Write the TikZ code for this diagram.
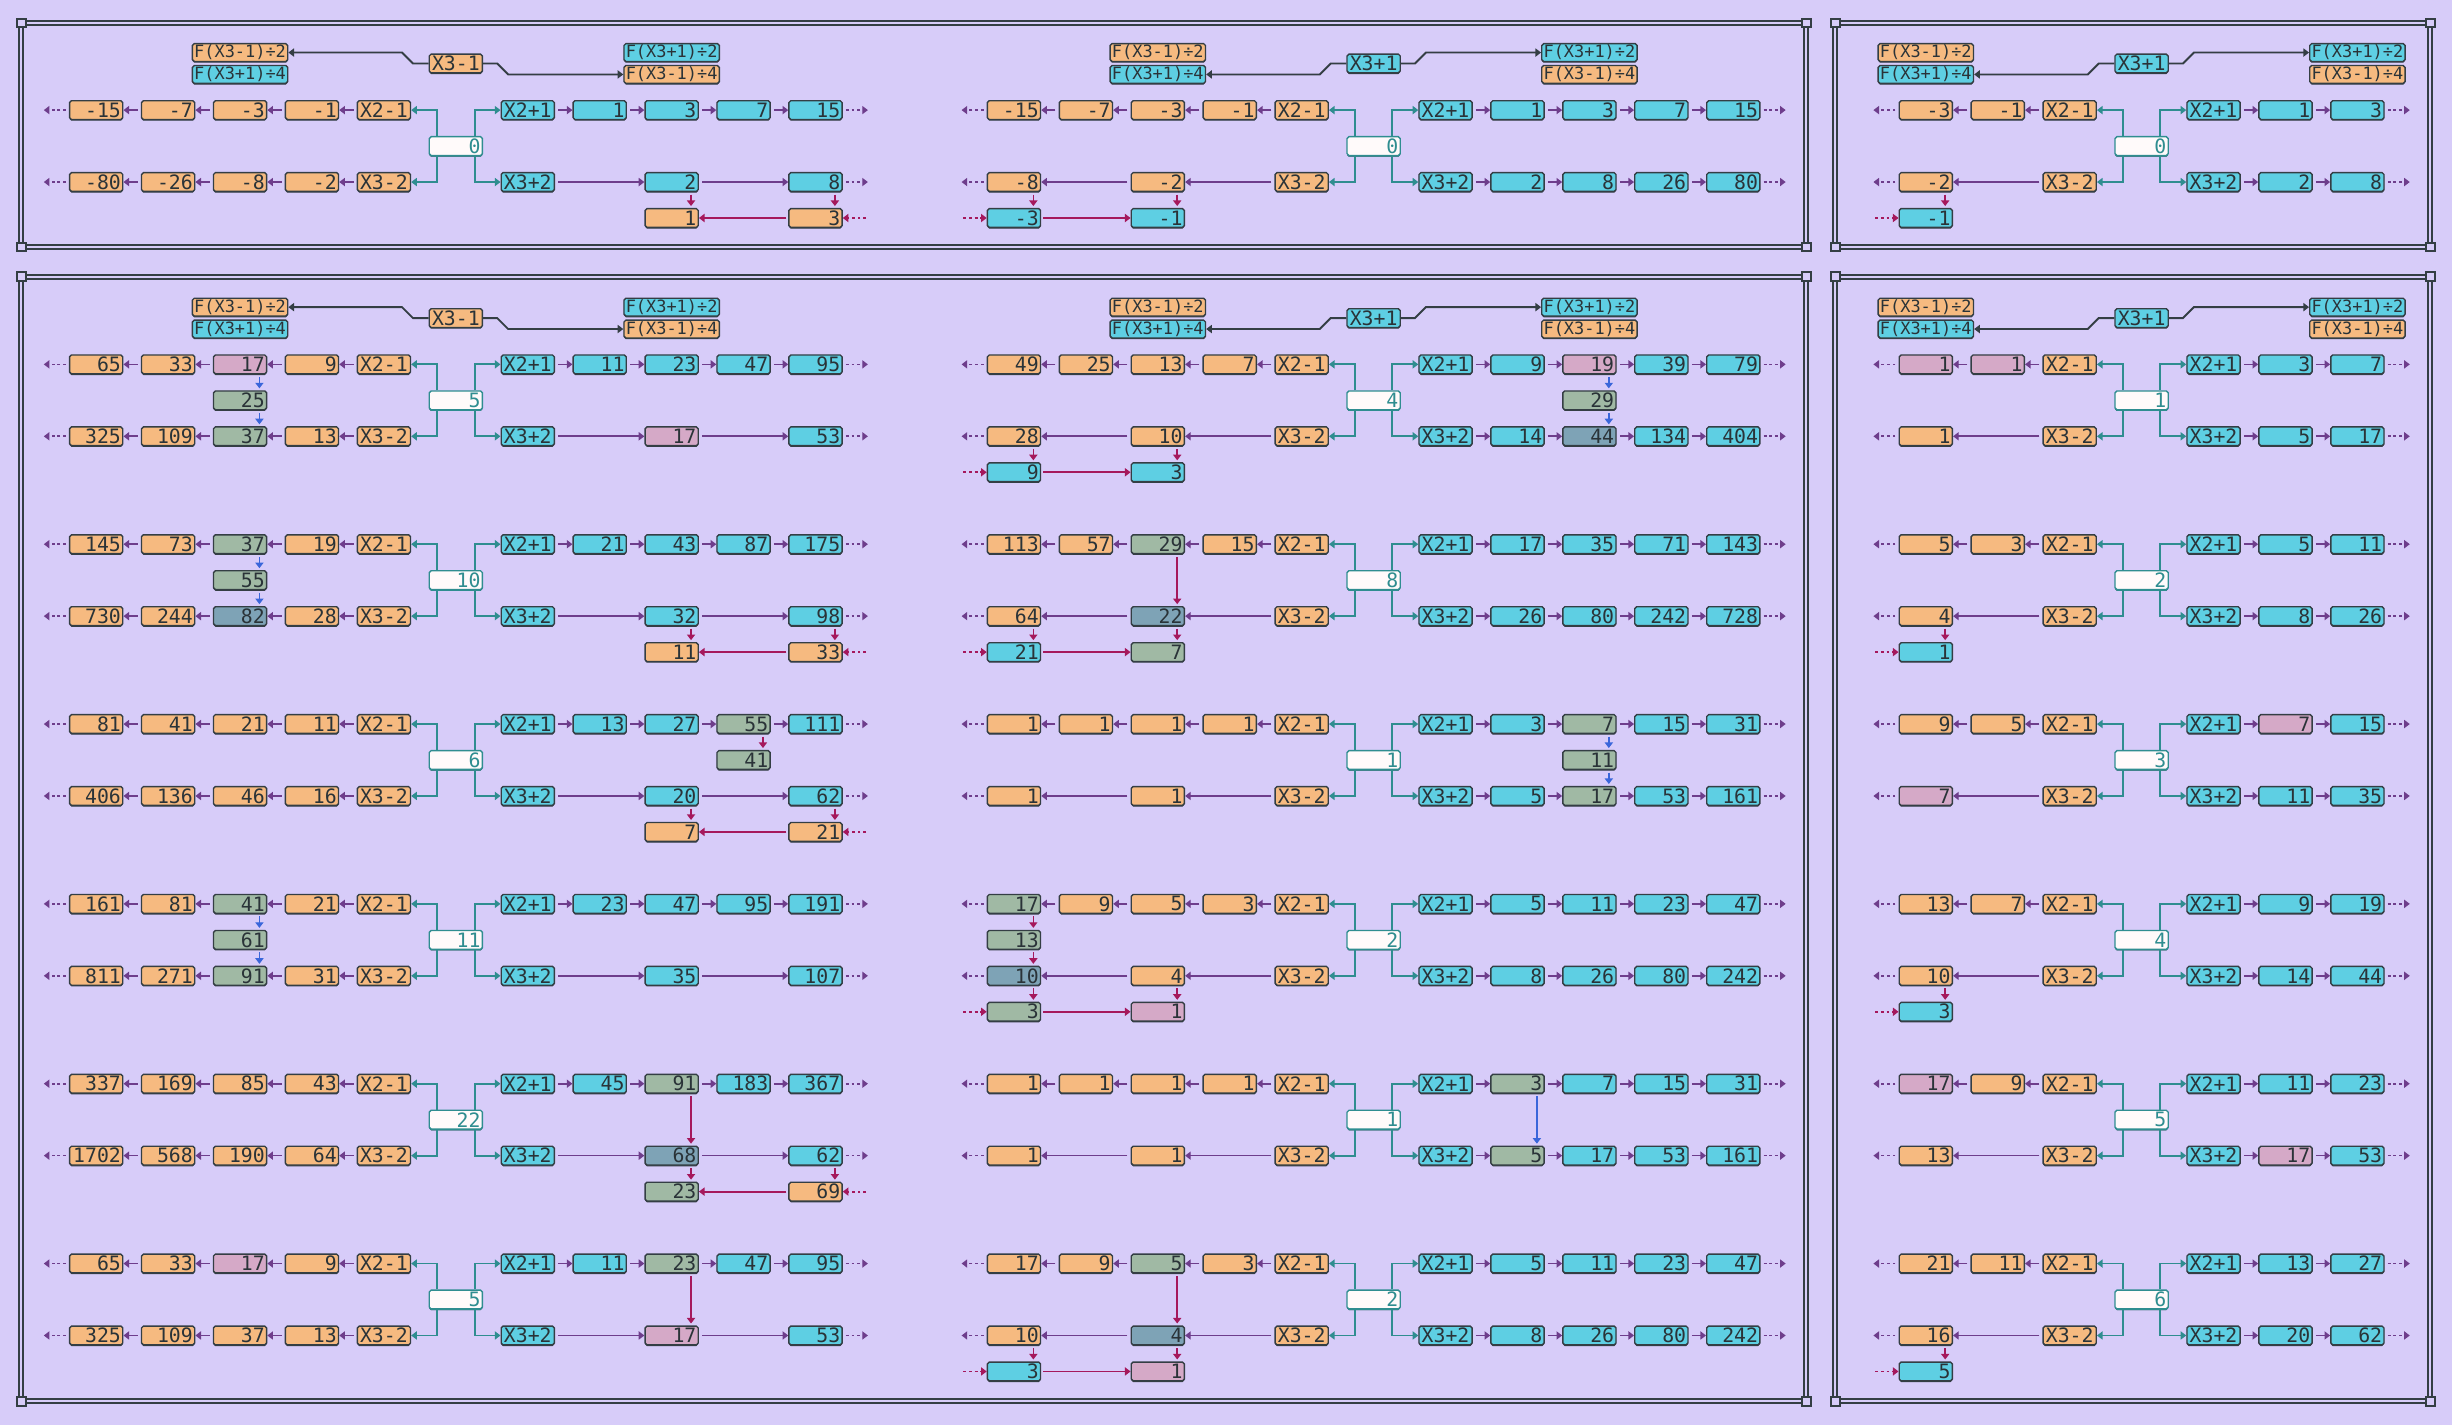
\documentclass[tikz,border=0pt]{standalone}
\usepackage{fontspec}
\setmonofont{DejaVu Sans Mono}
\usepackage{tikz}
\usetikzlibrary{arrows.meta,calc}
\definecolor{Lilac}{HTML}{D7CCF9}
\definecolor{cO}{HTML}{F6BA80}
\definecolor{cC}{HTML}{5ECFE3}
\definecolor{cP}{HTML}{D5A9C7}
\definecolor{cG}{HTML}{A0B9A4}
\definecolor{cS}{HTML}{7EA3B6}
\definecolor{Edge}{HTML}{343E44}
\definecolor{Ink}{HTML}{2A3338}
\definecolor{Lagoon}{HTML}{2F8D90}
\definecolor{Snow}{HTML}{FFFAFA}
\definecolor{Grape}{HTML}{6E3D8C}
\definecolor{Berry}{HTML}{A5185C}
\definecolor{Azure}{HTML}{3A66DA}
\newcommand{\cellfont}{\ttfamily\fontsize{9}{9}\selectfont}
\tikzset{
  cell/.style={draw=Edge, line width=0.22mm, rounded corners=0.3mm, minimum height=3mm,
    text width=7.9mm, inner xsep=0.3mm, inner ysep=0pt, align=right, text=Ink, font=\cellfont,
    preaction={fill=Edge, transform canvas={yshift=-0.2mm}}},
  fcell/.style={cell, text width=14.8mm, inner xsep=0.22mm, minimum height=2.85mm, align=center,
    font=\ttfamily\fontsize{7.7}{7.7}\selectfont},
  xO/.style={fill=cO, align=center},
  xC/.style={fill=cC, align=center},
  hub/.style={fill=Snow, draw=Lagoon, text=Lagoon, preaction={fill=Lagoon, transform canvas={yshift=-0.2mm}}},
  flow/.style={draw=Grape, line width=0.26mm, -{Triangle[length=0.9mm,width=1.3mm]}, shorten <=0.5mm},
  back/.style={draw=Berry, line width=0.3mm, -{Triangle[length=0.9mm,width=1.3mm]}, shorten <=0.3mm},
  loose/.style={dash pattern=on 0.45mm off 0.45mm},
  link/.style={draw=Lagoon, line width=0.3mm, -{Triangle[length=0.9mm,width=1.3mm]}},
  lead/.style={draw=Edge, line width=0.3mm, -{Triangle[length=0.9mm,width=1.3mm]}},
  bluedrop/.style={draw=Azure, line width=0.26mm, -{Triangle[length=0.9mm,width=1.3mm]}, shorten <=0.4mm, shorten >=0.3mm},
  reddrop/.style={bluedrop, draw=Berry},
  frame/.style={draw=Edge, line width=0.32mm, double=Lilac, double distance=0.32mm},
  notch/.style={draw=Edge, line width=0.32mm, fill=Lilac}
}
% double frame with small corner squares
\newcommand{\panel}[4]{%
  \draw[frame] (#1,#2) rectangle (#3,#4);
  \foreach \px/\py in {#1/#2,#3/#2,#1/#4,#3/#4}
    \draw[notch] ({\px-2.8},{\py-2.8}) rectangle ({\px+2.8},{\py+2.8});
}
% header: X3-1 or X3+1 and its four F boxes
\newcommand{\hdrline}[4]{%
  \node[fcell,fill=cO] (#1L2) at (#2-138,#3-7) {F(X3-1)÷2};
  \node[fcell,fill=cC] (#1L4) at (#2-138,#3+7) {F(X3+1)÷4};
  \node[fcell,fill=cC] (#1R2) at (#2+138,#3-7) {F(X3+1)÷2};
  \node[fcell,fill=cO] (#1R4) at (#2+138,#3+7) {F(X3-1)÷4};
  \if#4m
    \node[cell,xO] (#1op) at (#2,#3) {X3-1};
    \draw[lead] (#1op.west) -- ++(-10,0) -- ++(-7,-7) -- (#1L2.east);
    \draw[lead] (#1op.east) -- ++(9,0) -- ++(7,7) -- (#1R4.west);
  \else
    \node[cell,xC] (#1op) at (#2,#3) {X3+1};
    \draw[lead] (#1op.west) -- ++(-10,0) -- ++(-7,7) -- (#1L4.east);
    \draw[lead] (#1op.east) -- ++(9,0) -- ++(7,-7) -- (#1R2.west);
  \fi
}
% block: name, cx, cy, hub value, outer column
\newcommand{\blockat}[5]{%
  \def\bname{#1}\def\bcx{#2}\def\bcy{#3}\def\bnout{#5}%
  \node[cell,hub] (#1hub) at (#2,#3) {#4};
  \node[cell,xO] (#1r1c-1) at (#2-46,#3-23) {X2-1};
  \node[cell,xC] (#1r1c1) at (#2+46,#3-23) {X2+1};
  \node[cell,xO] (#1r2c-1) at (#2-46,#3+23) {X3-2};
  \node[cell,xC] (#1r2c1) at (#2+46,#3+23) {X3+2};
  \draw[link] ($(#1hub.north)+(-12,0)$) |- (#1r1c-1);
  \draw[link] ($(#1hub.north)+(12,0)$) |- (#1r1c1);
  \draw[link] ($(#1hub.south)+(-12,0)$) |- (#1r2c-1);
  \draw[link] ($(#1hub.south)+(12,0)$) |- (#1r2c1);
}
% outgoing row: tag, dy, side, col/value/colour
\newcommand{\rowout}[4]{%
  \pgfmathtruncatemacro{\ocol}{#3*\bnout}
  \foreach \col/\val/\clr [remember=\col as \prev (initially #3)] in {#4}{
    \node[cell,fill=c\clr] (\bname#1c\col) at ({\bcx+46*\col},{\bcy+#2}) {\val};
    \draw[flow] (\bname#1c\prev) -- (\bname#1c\col);
  }
  \coordinate (\bname#1x\ocol) at ({\bcx+(46*\bnout+33.5)*#3},{\bcy+#2});
  \draw[flow,loose] (\bname#1c\ocol) -- (\bname#1x\ocol);
}
\newcommand{\dropto}[3]{\draw[#1] ([xshift=3.1mm]#2.south) -- ([xshift=3.1mm]#3.north);}
% incoming row under row 2: side, col/value/colour from outside in
\newcommand{\rowin}[2]{%
  \coordinate (\bname r3x) at ({\bcx+(46*\bnout+33.5)*#1},{\bcy+46});
  \foreach \col/\val/\clr [remember=\col as \prev (initially 0)] in {#2}{
    \node[cell,fill=c\clr] (\bname r3c\col) at ({\bcx+46*\col},{\bcy+46}) {\val};
    \dropto{reddrop}{\bname r2c\col}{\bname r3c\col}
    \ifnum\prev=0 \draw[back,loose] (\bname r3x) -- (\bname r3c\col);
    \else \draw[back] (\bname r3c\prev) -- (\bname r3c\col);\fi
  }
}
\newcommand{\midbox}[3]{\node[cell,fill=c#3] (\bname mc#1) at ({\bcx+46*#1},\bcy) {#2};}

\begin{document}
\begin{tikzpicture}[x=0.25mm,y=-0.25mm]
\fill[Lilac] (0,0) rectangle (1568,911);
\panel{13.7}{14.7}{1155}{158}
\panel{1173.6}{14.7}{1554}{158}
\panel{13.7}{177}{1155}{896}
\panel{1173.6}{177}{1554}{896}

% top panels
\hdrline{HA}{291.5}{40.6}{m}
\blockat{A}{291.5}{93.4}{0}{5}
\rowout{r1}{-23}{-1}{-2/-1/O,-3/-3/O,-4/-7/O,-5/-15/O}
\rowout{r1}{-23}{1}{2/1/C,3/3/C,4/7/C,5/15/C}
\rowout{r2}{23}{-1}{-2/-2/O,-3/-8/O,-4/-26/O,-5/-80/O}
\rowout{r2}{23}{1}{3/2/C,5/8/C}
\rowin{1}{5/3/O,3/1/O}

\hdrline{HB}{878.4}{40.6}{p}
\blockat{B}{878.4}{93.4}{0}{5}
\rowout{r1}{-23}{-1}{-2/-1/O,-3/-3/O,-4/-7/O,-5/-15/O}
\rowout{r1}{-23}{1}{2/1/C,3/3/C,4/7/C,5/15/C}
\rowout{r2}{23}{-1}{-3/-2/O,-5/-8/O}
\rowout{r2}{23}{1}{2/2/C,3/8/C,4/26/C,5/80/C}
\rowin{-1}{-5/-3/C,-3/-1/C}

\hdrline{HC}{1369.5}{40.6}{p}
\blockat{C}{1369.5}{93.4}{0}{3}
\rowout{r1}{-23}{-1}{-2/-1/O,-3/-3/O}
\rowout{r1}{-23}{1}{2/1/C,3/3/C}
\rowout{r2}{23}{-1}{-3/-2/O}
\rowout{r2}{23}{1}{2/2/C,3/8/C}
\rowin{-1}{-3/-1/C}

% bottom panels, left column
\hdrline{HL}{291.5}{203.4}{m}
\blockat{L1}{291.5}{256}{5}{5}
\rowout{r1}{-23}{-1}{-2/9/O,-3/17/P,-4/33/O,-5/65/O}
\rowout{r1}{-23}{1}{2/11/C,3/23/C,4/47/C,5/95/C}
\rowout{r2}{23}{-1}{-2/13/O,-3/37/G,-4/109/O,-5/325/O}
\rowout{r2}{23}{1}{3/17/P,5/53/C}
\midbox{-3}{25}{G}
\dropto{bluedrop}{L1r1c-3}{L1mc-3}
\dropto{bluedrop}{L1mc-3}{L1r2c-3}

\blockat{L2}{291.5}{371}{10}{5}
\rowout{r1}{-23}{-1}{-2/19/O,-3/37/G,-4/73/O,-5/145/O}
\rowout{r1}{-23}{1}{2/21/C,3/43/C,4/87/C,5/175/C}
\rowout{r2}{23}{-1}{-2/28/O,-3/82/S,-4/244/O,-5/730/O}
\rowout{r2}{23}{1}{3/32/C,5/98/C}
\midbox{-3}{55}{G}
\dropto{bluedrop}{L2r1c-3}{L2mc-3}
\dropto{bluedrop}{L2mc-3}{L2r2c-3}
\rowin{1}{5/33/O,3/11/O}

\blockat{L3}{291.5}{486}{6}{5}
\rowout{r1}{-23}{-1}{-2/11/O,-3/21/O,-4/41/O,-5/81/O}
\rowout{r1}{-23}{1}{2/13/C,3/27/C,4/55/G,5/111/C}
\rowout{r2}{23}{-1}{-2/16/O,-3/46/O,-4/136/O,-5/406/O}
\rowout{r2}{23}{1}{3/20/C,5/62/C}
\midbox{4}{41}{G}
\dropto{reddrop}{L3r1c4}{L3mc4}
\rowin{1}{5/21/O,3/7/O}

\blockat{L4}{291.5}{601}{11}{5}
\rowout{r1}{-23}{-1}{-2/21/O,-3/41/G,-4/81/O,-5/161/O}
\rowout{r1}{-23}{1}{2/23/C,3/47/C,4/95/C,5/191/C}
\rowout{r2}{23}{-1}{-2/31/O,-3/91/G,-4/271/O,-5/811/O}
\rowout{r2}{23}{1}{3/35/C,5/107/C}
\midbox{-3}{61}{G}
\dropto{bluedrop}{L4r1c-3}{L4mc-3}
\dropto{bluedrop}{L4mc-3}{L4r2c-3}

\blockat{L5}{291.5}{716}{22}{5}
\rowout{r1}{-23}{-1}{-2/43/O,-3/85/O,-4/169/O,-5/337/O}
\rowout{r1}{-23}{1}{2/45/C,3/91/G,4/183/C,5/367/C}
\rowout{r2}{23}{-1}{-2/64/O,-3/190/O,-4/568/O,-5/1702/O}
\rowout{r2}{23}{1}{3/68/S,5/62/C}
\dropto{reddrop}{L5r1c3}{L5r2c3}
\rowin{1}{5/69/O,3/23/G}

\blockat{L6}{291.5}{831}{5}{5}
\rowout{r1}{-23}{-1}{-2/9/O,-3/17/P,-4/33/O,-5/65/O}
\rowout{r1}{-23}{1}{2/11/C,3/23/G,4/47/C,5/95/C}
\rowout{r2}{23}{-1}{-2/13/O,-3/37/O,-4/109/O,-5/325/O}
\rowout{r2}{23}{1}{3/17/P,5/53/C}
\dropto{reddrop}{L6r1c3}{L6r2c3}

% bottom panels, middle column
\hdrline{HM}{878.4}{203.4}{p}
\blockat{M1}{878.4}{256}{4}{5}
\rowout{r1}{-23}{-1}{-2/7/O,-3/13/O,-4/25/O,-5/49/O}
\rowout{r1}{-23}{1}{2/9/C,3/19/P,4/39/C,5/79/C}
\rowout{r2}{23}{-1}{-3/10/O,-5/28/O}
\rowout{r2}{23}{1}{2/14/C,3/44/S,4/134/C,5/404/C}
\midbox{3}{29}{G}
\dropto{bluedrop}{M1r1c3}{M1mc3}
\dropto{bluedrop}{M1mc3}{M1r2c3}
\rowin{-1}{-5/9/C,-3/3/C}

\blockat{M2}{878.4}{371}{8}{5}
\rowout{r1}{-23}{-1}{-2/15/O,-3/29/G,-4/57/O,-5/113/O}
\rowout{r1}{-23}{1}{2/17/C,3/35/C,4/71/C,5/143/C}
\rowout{r2}{23}{-1}{-3/22/S,-5/64/O}
\rowout{r2}{23}{1}{2/26/C,3/80/C,4/242/C,5/728/C}
\dropto{reddrop}{M2r1c-3}{M2r2c-3}
\rowin{-1}{-5/21/C,-3/7/G}

\blockat{M3}{878.4}{486}{1}{5}
\rowout{r1}{-23}{-1}{-2/1/O,-3/1/O,-4/1/O,-5/1/O}
\rowout{r1}{-23}{1}{2/3/C,3/7/G,4/15/C,5/31/C}
\rowout{r2}{23}{-1}{-3/1/O,-5/1/O}
\rowout{r2}{23}{1}{2/5/C,3/17/G,4/53/C,5/161/C}
\midbox{3}{11}{G}
\dropto{bluedrop}{M3r1c3}{M3mc3}
\dropto{bluedrop}{M3mc3}{M3r2c3}

\blockat{M4}{878.4}{601}{2}{5}
\rowout{r1}{-23}{-1}{-2/3/O,-3/5/O,-4/9/O,-5/17/G}
\rowout{r1}{-23}{1}{2/5/C,3/11/C,4/23/C,5/47/C}
\rowout{r2}{23}{-1}{-3/4/O,-5/10/S}
\rowout{r2}{23}{1}{2/8/C,3/26/C,4/80/C,5/242/C}
\midbox{-5}{13}{G}
\dropto{reddrop}{M4r1c-5}{M4mc-5}
\dropto{reddrop}{M4mc-5}{M4r2c-5}
\rowin{-1}{-5/3/G,-3/1/P}

\blockat{M5}{878.4}{716}{1}{5}
\rowout{r1}{-23}{-1}{-2/1/O,-3/1/O,-4/1/O,-5/1/O}
\rowout{r1}{-23}{1}{2/3/G,3/7/C,4/15/C,5/31/C}
\rowout{r2}{23}{-1}{-3/1/O,-5/1/O}
\rowout{r2}{23}{1}{2/5/G,3/17/C,4/53/C,5/161/C}
\dropto{bluedrop}{M5r1c2}{M5r2c2}

\blockat{M6}{878.4}{831}{2}{5}
\rowout{r1}{-23}{-1}{-2/3/O,-3/5/G,-4/9/O,-5/17/O}
\rowout{r1}{-23}{1}{2/5/C,3/11/C,4/23/C,5/47/C}
\rowout{r2}{23}{-1}{-3/4/S,-5/10/O}
\rowout{r2}{23}{1}{2/8/C,3/26/C,4/80/C,5/242/C}
\dropto{reddrop}{M6r1c-3}{M6r2c-3}
\rowin{-1}{-5/3/C,-3/1/P}

% bottom panels, right column
\hdrline{HR}{1369.5}{203.4}{p}
\blockat{R1}{1369.5}{256}{1}{3}
\rowout{r1}{-23}{-1}{-2/1/P,-3/1/P}
\rowout{r1}{-23}{1}{2/3/C,3/7/C}
\rowout{r2}{23}{-1}{-3/1/O}
\rowout{r2}{23}{1}{2/5/C,3/17/C}

\blockat{R2}{1369.5}{371}{2}{3}
\rowout{r1}{-23}{-1}{-2/3/O,-3/5/O}
\rowout{r1}{-23}{1}{2/5/C,3/11/C}
\rowout{r2}{23}{-1}{-3/4/O}
\rowout{r2}{23}{1}{2/8/C,3/26/C}
\rowin{-1}{-3/1/C}

\blockat{R3}{1369.5}{486}{3}{3}
\rowout{r1}{-23}{-1}{-2/5/O,-3/9/O}
\rowout{r1}{-23}{1}{2/7/P,3/15/C}
\rowout{r2}{23}{-1}{-3/7/P}
\rowout{r2}{23}{1}{2/11/C,3/35/C}

\blockat{R4}{1369.5}{601}{4}{3}
\rowout{r1}{-23}{-1}{-2/7/O,-3/13/O}
\rowout{r1}{-23}{1}{2/9/C,3/19/C}
\rowout{r2}{23}{-1}{-3/10/O}
\rowout{r2}{23}{1}{2/14/C,3/44/C}
\rowin{-1}{-3/3/C}

\blockat{R5}{1369.5}{716}{5}{3}
\rowout{r1}{-23}{-1}{-2/9/O,-3/17/P}
\rowout{r1}{-23}{1}{2/11/C,3/23/C}
\rowout{r2}{23}{-1}{-3/13/O}
\rowout{r2}{23}{1}{2/17/P,3/53/C}

\blockat{R6}{1369.5}{831}{6}{3}
\rowout{r1}{-23}{-1}{-2/11/O,-3/21/O}
\rowout{r1}{-23}{1}{2/13/C,3/27/C}
\rowout{r2}{23}{-1}{-3/16/O}
\rowout{r2}{23}{1}{2/20/C,3/62/C}
\rowin{-1}{-3/5/C}
\end{tikzpicture}
\end{document}
